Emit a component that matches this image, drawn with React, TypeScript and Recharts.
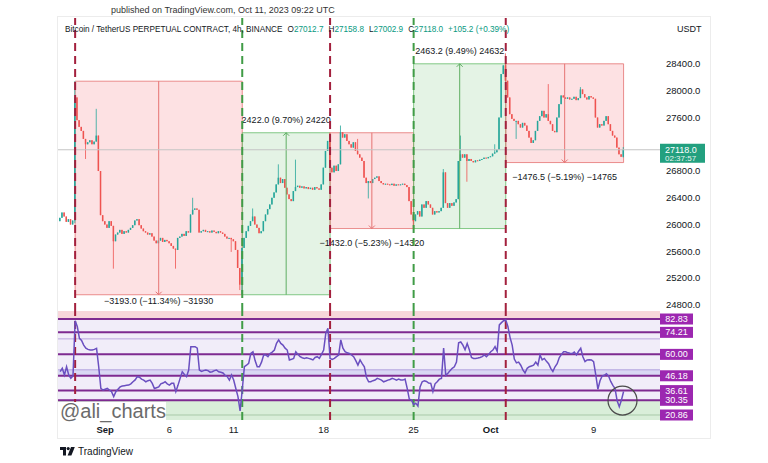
import React from "react";
import {
  ComposedChart,
  Bar,
  Line,
  XAxis,
  YAxis,
  ReferenceArea,
  ReferenceLine,
  ReferenceDot,
} from "recharts";

// BTCUSDT perp, 4h candles from Aug 28 12:00 UTC (index 0) to Oct 11 08:00 UTC (index 263)
const FIRST_OPEN = 26050;
const CLOSES = [
  // Aug 28
  26100, 26180, 26120,
  // Aug 29
  26040, 26080, 26000, 26060, 27900, 27560,
  // Aug 30
  27460, 27400, 27280, 27200, 27230, 27260,
  // Aug 31
  27200, 27240, 27330, 26800, 26140, 26050,
  // Sep 1
  26000, 25950, 26050, 25980, 25750, 25850,
  // Sep 2
  25880, 25920, 25860, 25900, 25880, 25920,
  // Sep 3
  25950, 25990, 26060, 26080, 25990, 25940,
  // Sep 4
  25900, 25880, 25850, 25870, 25820, 25760,
  // Sep 5
  25720, 25760, 25800, 25740, 25770, 25750,
  // Sep 6
  25720, 25680, 25640, 25620, 25800, 25820,
  // Sep 7
  25860, 25830, 25900, 25880, 26150, 26220,
  // Sep 8
  26240, 26220, 25880, 25900, 25920, 25890,
  // Sep 9
  25900, 25880, 25910, 25890, 25870, 25900,
  // Sep 10
  25880, 25860, 25820, 25790, 25800, 25780,
  // Sep 11
  25750, 25620, 25350, 25100, 25650, 25800,
  // Sep 12
  25900, 25980, 26050, 26120, 26000, 25950,
  // Sep 13
  25870, 25900, 26050, 26150, 26230, 26300,
  // Sep 14
  26400, 26480, 26600, 26700, 26620, 26680,
  // Sep 15
  26550, 26450, 26380, 26350, 26500, 26560,
  // Sep 16
  26580, 26550, 26570, 26540, 26560, 26530,
  // Sep 17
  26550, 26520, 26560, 26540, 26520, 26600,
  // Sep 18
  26850, 27100, 27250, 26850, 26780, 26880,
  // Sep 19
  26800, 26900, 27380, 27300, 27350, 27250,
  // Sep 20
  27200, 27150, 27230, 27100, 27050, 27000,
  // Sep 21
  26950, 26700, 26620, 26650, 26620, 26680,
  // Sep 22
  26700, 26720, 26650, 26620, 26600, 26610,
  // Sep 23
  26600, 26590, 26610, 26580, 26600, 26590,
  // Sep 24
  26600, 26610, 26590, 26560, 26350, 26150,
  // Sep 25
  26050, 26150, 26200, 26120, 26300, 26250,
  // Sep 26
  26350, 26300, 26250, 26150, 26200, 26180,
  // Sep 27
  26200, 26250, 26780, 26320, 26250, 26320,
  // Sep 28
  26280, 26330, 26380, 26950, 27050, 27000,
  // Sep 29
  27050, 26950, 26980, 26950, 26930, 26960,
  // Sep 30
  26950, 26970, 26980, 27000, 26990, 27010,
  // Oct 1
  27020, 27060, 27080, 27120, 27600, 28250,
  // Oct 2
  28380, 28150, 27900, 27650, 27580, 27550,
  // Oct 3
  27550, 27500, 27450, 27520, 27480, 27400,
  // Oct 4
  27300, 27220, 27260, 27400, 27550, 27620,
  // Oct 5
  27700, 27600, 27650, 27550, 27500, 27400,
  // Oct 6
  27380, 27600, 27800, 27930, 27900, 27880,
  // Oct 7
  27900, 27870, 27880, 27910, 27860, 27890,
  // Oct 8
  28020, 27950, 27900, 27870, 27920, 27900,
  // Oct 9
  27880, 27600, 27450, 27500, 27480, 27550,
  // Oct 10
  27620, 27500, 27400, 27330, 27300, 27150,
  // Oct 11
  27050, 27012.7, 27118.0,
];

// candles whose wicks reach past the body
const WICKS = [
  { i: 7, high: 28143, low: 26020 },
  { i: 12, low: 26980 },
  { i: 17, high: 27730 },
  { i: 25, low: 25340 },
  { i: 54, low: 25340 },
  { i: 62, high: 26400 },
  { i: 80, low: 25590 },
  { i: 84, low: 25020 },
  { i: 85, low: 24950 },
  { i: 90, high: 26240 },
  { i: 102, high: 26900 },
  { i: 110, high: 26970 },
  { i: 126, high: 27372 },
  { i: 131, high: 27480 },
  { i: 139, high: 27280 },
  { i: 144, low: 26390 },
  { i: 165, low: 25940 },
  { i: 179, high: 26830 },
  { i: 187, high: 27330 },
  { i: 190, low: 26640 },
  { i: 203, high: 27200 },
  { i: 208, high: 28560 },
  { i: 213, low: 27280 },
  { i: 228, high: 28100 },
  { i: 243, high: 28055 },
  { i: 263, high: 27158.8, low: 27002.9 },
];

const RSI = [
  48.8, 51, 46.7, 52, 46.7, 44.5, 46,
  81.7, 78, 70.3, 69, 66, 64, 63.2, 62.8, 62.8, 63.2, 63.9, 52, 38, 37,
  37.5, 38, 37, 35.9, 32.7, 35.9,
  37.5, 39, 39.6, 39.8, 40, 40.2,
  41, 42.3, 43.5, 45.6, 45.2, 44,
  43.4, 42.3, 43, 43.4, 41.3, 38,
  38.5, 39, 41, 41.5, 42.3, 41,
  40.2, 41.3, 41.3, 35.9, 40, 44.5,
  48.8, 47, 45.6, 49.9, 65, 65,
  65, 64, 49.9, 49, 49.5, 49.9,
  49.5, 48.5, 48.8, 49.5, 49.9, 48.8,
  48.5, 48, 46.5, 45.6, 43.4, 46.7,
  43.4, 38, 32.7, 23.5, 37, 52,
  53, 54.2, 60.6, 61.7, 56, 52,
  52, 55, 59.6, 59.6, 58.5, 60.6,
  61.5, 62.8, 67.1, 69.3, 67.1, 66,
  64, 62.8, 56.4, 56.8, 57.4, 61.7,
  60, 58.5, 57.8, 57.4, 57.8, 57.4,
  57, 56.4, 58, 58.5, 57.4, 60,
  62.8, 73.6, 76.8, 57.4, 56.8, 57.4,
  58.5, 59.6, 69.3, 64, 61.7, 61,
  60.6, 59.6, 58.5, 56, 53.1, 56.4,
  54, 52, 45, 42.3, 42.3, 43,
  43.4, 44.5, 44, 43.4, 42.3, 42.8,
  43.4, 43.8, 44.5, 44, 43.4, 44,
  43.5, 43.4, 44, 38, 31, 30.5,
  27.5, 28.5, 26.7, 39, 42.3, 43,
  42.5, 41.5, 41.3, 36, 41, 42.3,
  44, 44.5, 64, 46.5, 47.8, 49.5,
  51, 52, 55, 67.5, 68, 66,
  63, 67, 63, 58, 57.4, 57.4,
  57.6, 58, 58.5, 59.6, 58.5, 60,
  61.7, 62.8, 65, 62, 79, 80.5,
  81.7, 82.2, 78, 71, 66, 57,
  54.5, 55, 53, 50, 48, 51,
  52, 52.5, 53, 55, 53, 59.6,
  56.5, 57.4, 55.5, 54, 51, 49,
  52, 54, 58, 60, 61.7, 61.7,
  61, 60.7, 60.5, 61.5, 59.6, 62,
  63.9, 58.5, 55.3, 56.4, 56.5, 56.4,
  55.3, 47, 37.5, 43, 46, 46.5,
  47.5, 46, 42.5, 40, 38, 30,
  26.2, 30.5, 36,
];

const DATE_TICKS = [21, 51, 81, 123, 165, 201, 249];
const DATE_LABELS = ["Sep", "6", "11", "18", "25", "Oct", "9"];
const PRICE_TICKS = [24800, 25200, 25600, 26000, 26400, 26800, 27600, 28000, 28400];

const PIVOTS = [
  { i: 7, side: "top" },
  { i: 85, side: "bottom" },
  { i: 126, side: "top" },
  { i: 165, side: "bottom" },
  { i: 208, side: "top" },
];

const RANGES = [
  { from: 7, to: 85, start: 28143, end: 24950, label: "\u22123193.0 (\u221211.34%) \u221231930" },
  { from: 85, to: 126, start: 24950, end: 27372, label: "2422.0 (9.70%) 24220" },
  { from: 126, to: 165, start: 27372, end: 25940, label: "\u22121432.0 (\u22125.23%) \u221214320" },
  { from: 165, to: 208, start: 25940, end: 28403.2, label: "2463.2 (9.49%) 24632" },
  { from: 208, to: 263, start: 28403.2, end: 26926.7, label: "\u22121476.5 (\u22125.19%) \u221214765" },
];

const RSI_LEVELS = [82.83, 74.21, 60, 46.18, 36.61, 30.35, 20.86];
const RSI_GUIDES = [70, 50];
const LAST_PRICE = 27118.0;
const COUNTDOWN = "02:37:57";
const OHLC = [
  ["O", "27012.7"],
  ["H", "27158.8"],
  ["L", "27002.9"],
  ["C", "27118.0"],
];
const CHANGE = "+105.2 (+0.39%)";

const UP = "#26a69a";
const DOWN = "#ef5350";
const TEXT = "#131722";
const FONT = "'Liberation Sans', Arial, sans-serif";
const X_DOMAIN = [-1, 280];
const MARGIN_X = { left: 58, right: 58 };

const wickMap = new Map(WICKS.map((w) => [w.i, w]));
const candles = CLOSES.map((close, i) => {
  const open = i === 0 ? FIRST_OPEN : CLOSES[i - 1];
  const w: any = wickMap.get(i) || {};
  const high = Math.max(open, close, w.high ?? -Infinity);
  const low = Math.min(open, close, w.low ?? Infinity);
  return { i, open, close, high, low, range: [low, high] };
});
const rsiData = RSI.map((rsi, i) => ({ i, rsi }));

function Candle(props: any) {
  const { x, y, width, height, payload } = props;
  if (x == null || y == null || !payload) return null;
  const top = Math.min(y, y + height);
  const h = Math.abs(height);
  const span = payload.high - payload.low;
  const toY = (v: number) => (span === 0 ? top : top + ((payload.high - v) / span) * h);
  const yo = toY(payload.open);
  const yc = toY(payload.close);
  const color = payload.close >= payload.open ? UP : DOWN;
  const cx = x + width / 2;
  return (
    <g>
      <line x1={cx} x2={cx} y1={top} y2={top + h} stroke={color} strokeWidth={0.8} />
      <rect x={x} y={Math.min(yo, yc)} width={width} height={Math.max(1, Math.abs(yc - yo))} fill={color} />
    </g>
  );
}

function arrowShape(color: string, down: boolean) {
  return (p: any) => {
    const { x1, y1, x2, y2 } = p;
    const tip = down ? Math.max(y1, y2) : Math.min(y1, y2);
    const s = down ? -1 : 1;
    return (
      <g>
        <line x1={x1} y1={y1} x2={x2} y2={y2} stroke={color} strokeWidth={1} />
        <path d={`M${x1 - 3},${tip + s * 3} L${x1},${tip} L${x1 + 3},${tip + s * 3}`} stroke={color} fill="none" />
      </g>
    );
  };
}

function rangeLabel(text: string, down: boolean) {
  return (p: any) => {
    const vb = p.viewBox;
    if (!vb) return null;
    const cx = vb.x + vb.width / 2;
    const cy = down ? Math.min(vb.y + vb.height + 14, 301) : vb.y - 13;
    return (
      <text x={cx} y={cy} textAnchor="middle" dominantBaseline="central" fontSize={9} fill={TEXT} fontFamily={FONT}>
        {text}
      </text>
    );
  };
}

function priceTag(p: any) {
  const vb = p.viewBox;
  if (!vb) return null;
  const x = vb.x + vb.width;
  const y = vb.y;
  return (
    <g>
      <rect x={x} y={y - 6} width={45} height={19} fill="#22a07f" />
      <text x={x + 5} y={y + 0.5} dominantBaseline="central" fontSize={9} fill="#fff" fontFamily={FONT}>
        {LAST_PRICE.toFixed(1)}
      </text>
      <text x={x + 5} y={y + 8.5} dominantBaseline="central" fontSize={8} fill="#e6f5ef" fontFamily={FONT}>
        {COUNTDOWN}
      </text>
    </g>
  );
}

function DateTick(p: any) {
  const idx = DATE_TICKS.indexOf(p.payload.value);
  const label = DATE_LABELS[idx] ?? "";
  const bold = label === "Sep" || label === "Oct";
  return (
    <text x={p.x} y={p.y + 13} textAnchor="middle" fontSize={9.5} fontWeight={bold ? 700 : 400} fill={TEXT} fontFamily={FONT}>
      {label}
    </text>
  );
}

function RsiTag(p: any) {
  const v = p.payload.value;
  return (
    <g>
      <rect x={p.x} y={p.y - 5.5} width={33} height={11} fill="#9c27b0" />
      <text x={p.x + 16.5} y={p.y} textAnchor="middle" dominantBaseline="central" fontSize={9} fill="#fff" fontFamily={FONT}>
        {v.toFixed(2)}
      </text>
    </g>
  );
}

function pivotColor(side: string) {
  return side === "top" ? "#a3203d" : "#409c46";
}

export default function App() {
  return (
    <div style={{ position: "absolute", left: 0, top: 0, width: 768, height: 463, background: "#fff", fontFamily: FONT, overflow: "hidden" }}>
      <div style={{ position: "absolute", left: 57, top: 16, width: 652, height: 421, border: "1px solid #ececec" }} />

      <div style={{ position: "absolute", left: 0, top: 0 }}>
        <ComposedChart width={768} height={311} data={candles} margin={{ top: 18, bottom: 0, ...MARGIN_X }}>
          <XAxis dataKey="i" type="number" domain={X_DOMAIN} hide allowDataOverflow />
          <YAxis
            orientation="right"
            domain={[24707, 29088]}
            ticks={PRICE_TICKS}
            interval={0}
            width={50}
            tickSize={0}
            tickMargin={6}
            axisLine={false}
            tickLine={false}
            tick={{ fill: TEXT, fontSize: 9.5, fontFamily: FONT, textAnchor: "start" }}
            tickFormatter={(v: number) => v.toFixed(1)}
            allowDataOverflow
          />
          {RANGES.map((r, k) => {
            const down = r.end < r.start;
            return (
              <ReferenceArea
                key={`ra${k}`}
                x1={r.from}
                x2={r.to}
                y1={Math.min(r.start, r.end)}
                y2={Math.max(r.start, r.end)}
                fill={down ? "#f23645" : "#4caf50"}
                fillOpacity={0.15}
                stroke={down ? "#e57373" : "#66bb6a"}
                strokeOpacity={0.8}
                label={rangeLabel(r.label, down)}
              />
            );
          })}
          {RANGES.map((r, k) => {
            const down = r.end < r.start;
            const mid = (r.from + r.to) / 2;
            return (
              <ReferenceLine
                key={`rl${k}`}
                segment={[{ x: mid, y: r.start }, { x: mid, y: r.end }]}
                stroke={down ? "#e57373" : "#5fae63"}
                shape={arrowShape(down ? "#e57373" : "#5fae63", down)}
              />
            );
          })}
          <ReferenceLine y={LAST_PRICE} stroke="#c4c4c4" strokeWidth={1} label={priceTag} />
          <Bar dataKey="range" barSize={1.5} shape={<Candle />} isAnimationActive={false} />
          {PIVOTS.map((p) => (
            <ReferenceLine key={`pv${p.i}`} x={p.i} stroke={pivotColor(p.side)} strokeWidth={2} strokeDasharray="8 5" />
          ))}
        </ComposedChart>
      </div>

      <div style={{ position: "absolute", left: 0, top: 311 }}>
        <ComposedChart width={768} height={130} data={rsiData} margin={{ top: 0, bottom: 0, ...MARGIN_X }}>
          <XAxis
            dataKey="i"
            type="number"
            domain={X_DOMAIN}
            ticks={DATE_TICKS}
            interval={0}
            height={21}
            tickSize={0}
            tickMargin={0}
            axisLine={false}
            tickLine={false}
            tick={<DateTick />}
            allowDataOverflow
          />
          <YAxis
            orientation="right"
            domain={[17.63, 88]}
            ticks={RSI_LEVELS}
            interval={0}
            width={50}
            tickSize={0}
            tickMargin={0}
            axisLine={false}
            tickLine={false}
            tick={<RsiTag />}
            allowDataOverflow
          />
          <ReferenceArea y1={82.83} y2={88} fill="#f7d6da" fillOpacity={1} />
          <ReferenceArea y1={30.35} y2={82.83} fill="#f1edf9" fillOpacity={1} />
          <ReferenceArea y1={46.18} y2={50.5} fill="#d9d8f4" fillOpacity={1} />
          <ReferenceArea y1={17.63} y2={30.35} fill="#d9eed9" fillOpacity={1} />
          {RSI_GUIDES.map((g) => (
            <ReferenceLine key={`g${g}`} y={g} stroke="#b9a6de" strokeWidth={1} />
          ))}
          {RSI_LEVELS.map((l) => (
            <ReferenceLine
              key={`l${l}`}
              y={l}
              stroke={l < 25 ? "#a9c9a9" : "#7e2a90"}
              strokeWidth={l < 25 ? 1 : 2}
            />
          ))}
          {PIVOTS.map((p) => (
            <ReferenceLine key={`rp${p.i}`} x={p.i} stroke={pivotColor(p.side)} strokeWidth={2} strokeDasharray="8 5" />
          ))}
          <Line type="linear" dataKey="rsi" stroke="#6a4fc0" strokeWidth={1.5} dot={false} isAnimationActive={false} />
          <ReferenceDot x={262.5} y={30.2} r={14.5} fill="none" stroke="#4a4a4a" strokeWidth={1.2} />
        </ComposedChart>
      </div>

      <div style={{ position: "absolute", left: 111, top: 5, fontSize: 9, color: "#333", whiteSpace: "nowrap" }}>
        published on TradingView.com, Oct 11, 2023 09:22 UTC
      </div>
      <div style={{ position: "absolute", left: 65, top: 25, fontSize: 8.2, color: TEXT, whiteSpace: "nowrap" }}>
        Bitcoin / TetherUS PERPETUAL CONTRACT, 4h, BINANCE
        {OHLC.map(([k, v]) => (
          <span key={k} style={{ marginLeft: 5 }}>
            {k}
            <span style={{ color: "#089981" }}>{v}</span>
          </span>
        ))}
        <span style={{ marginLeft: 5, color: "#089981" }}>{CHANGE}</span>
      </div>
      <div style={{ position: "absolute", left: 677, top: 24, fontSize: 9, color: TEXT }}>USDT</div>

      <div style={{ position: "absolute", left: 58, top: 402, width: 108, height: 19, background: "#fff" }} />
      <div style={{ position: "absolute", left: 60, top: 399, fontSize: 20, color: "#6b6b6b", whiteSpace: "nowrap", lineHeight: "24px" }}>
        @ali_charts
      </div>

      <div style={{ position: "absolute", left: 60, top: 446, display: "flex", alignItems: "center", gap: 3 }}>
        <svg width={15} height={9} viewBox="0 0 15 9">
          <path d="M0 0h6v8.5H3V3H0z" fill={TEXT} />
          <circle cx={8.2} cy={1.6} r={1.6} fill={TEXT} />
          <path d="M11 0h3.8l-3.4 8.5H7.6z" fill={TEXT} />
        </svg>
        <span style={{ fontSize: 10, color: TEXT }}>TradingView</span>
      </div>
    </div>
  );
}
